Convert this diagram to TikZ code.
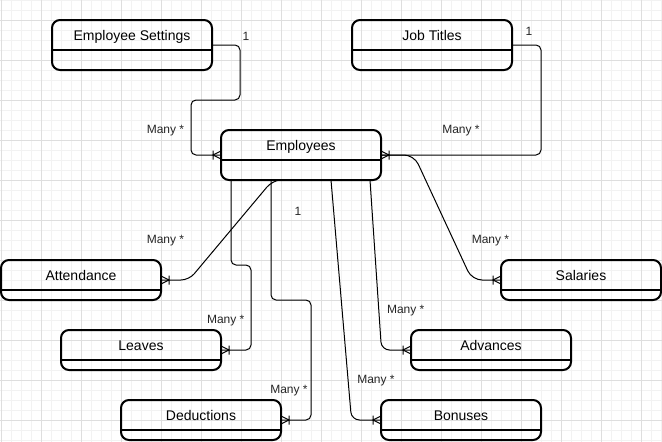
\documentclass[tikz,border=0pt]{standalone}
\usepackage{fontspec}
\setmainfont{Liberation Sans}
\pgfdeclarearrow{
  name = crow,
  setup code = {
    \pgfarrowssettipend{0pt}
    \pgfarrowssetlineend{0pt}
    \pgfarrowssetbackend{-8.5pt}
    \pgfarrowsupperhullpoint{0pt}{4.5pt}
    \pgfarrowsupperhullpoint{-8.5pt}{4.5pt}
  },
  drawing code = {
    \pgfsetdash{}{0pt}
    \pgfpathmoveto{\pgfpoint{0pt}{4pt}}
    \pgfpathlineto{\pgfpoint{-8pt}{0pt}}
    \pgfpathlineto{\pgfpoint{0pt}{-4pt}}
    \pgfpathmoveto{\pgfpoint{-8pt}{4.5pt}}
    \pgfpathlineto{\pgfpoint{-8pt}{-4.5pt}}
    \pgfusepathqstroke
  }
}
\newcommand\entbox[5]{%
  \node[entity, minimum height=#4pt, anchor=north west] (#1) at (#2,#3) {};
  \node[ttl] (#1t) at ([yshift=-15pt]#1.north) {#5};
  \draw[divider] ([yshift=-30pt]#1.north west) -- ([yshift=-30pt]#1.north east);
}
\begin{document}
\begin{tikzpicture}[x=1pt,y=-1pt,
  entity/.style={draw=black, line width=2pt, rounded corners=8pt, minimum width=160pt, inner sep=0pt, outer sep=0pt},
  ttl/.style={font=\fontsize{14}{16}\selectfont, inner sep=0pt, text height=10pt, text depth=0pt},
  lbl/.style={font=\fontsize{12}{14}\selectfont, inner sep=0pt, text=black!85},
  rel/.style={draw=black, line width=1pt, rounded corners=5pt, -crow},
  divider/.style={draw=black, line width=2pt},
  minor/.style={draw=black!5, line width=1pt},
  major/.style={draw=black!13, line width=1pt}]
\useasboundingbox (0,0) rectangle (662,442);
\fill[white] (0,0) rectangle (662,442);
\foreach \x in {1,11,...,661} \draw[minor] (\x,0) -- (\x,442);
\foreach \y in {0,10,...,440} \draw[minor] (0,\y) -- (662,\y);
\foreach \x in {1,41,...,641} \draw[major] (\x,0) -- (\x,442);
\foreach \y in {20,60,...,420} \draw[major] (0,\y) -- (662,\y);

\entbox{es}{52}{20}{50}{Employee Settings}
\entbox{jt}{352}{20}{50}{Job Titles}
\entbox{emp}{221}{130}{50}{Employees}
\entbox{att}{1}{260}{40}{Attendance}
\entbox{lea}{61}{330}{40}{Leaves}
\entbox{ded}{121}{400}{40}{Deductions}
\entbox{sal}{501}{260}{40}{Salaries}
\entbox{adv}{411}{330}{40}{Advances}
\entbox{bon}{381}{400}{40}{Bonuses}

\draw[rel] (es.east) -- (240,45) -- (240,100) -- (191,100) -- (191,155) -- (emp.west);
\draw[rel] (jt.east) -- (541,45) -- (541,155) -- (emp.east);
\draw[rel, rounded corners=10pt] (emp.east) -- (414,155) -- (472,280) -- (sal.west);
\draw[rel, rounded corners=8pt] ([xshift=58pt]emp.south west) -- (272,181) -- (189,280) -- (att.east);
\draw[rel] ([xshift=10pt]emp.south west) -- (231,265) -- (251,265) -- (251,350) -- (lea.east);
\draw[rel] ([xshift=50pt]emp.south west) -- (271,300) -- (311,300) -- (311,420) -- (ded.east);
\draw[rel, rounded corners=8pt] ([xshift=110pt]emp.south west) -- (351.5,420) -- (bon.west);
\draw[rel, rounded corners=8pt] ([xshift=149pt]emp.south west) -- (381.5,350) -- (adv.west);

\node[lbl] (l1) at (246,36) {1};
\node[lbl] (l2) at (165.5,131) {Many *};
\node[lbl] (l3) at (529,31) {1};
\node[lbl] (l4) at (461,131) {Many *};
\node[lbl] (l5) at (298,211) {1};
\node[lbl] (l6) at (165.5,241) {Many *};
\node[lbl] (l7) at (225.7,321) {Many *};
\node[lbl] (l8) at (289,391) {Many *};
\node[lbl] (l9) at (376,381) {Many *};
\node[lbl] (l10) at (405.7,311) {Many *};
\node[lbl] (l11) at (490.5,241) {Many *};
\end{tikzpicture}
\end{document}
